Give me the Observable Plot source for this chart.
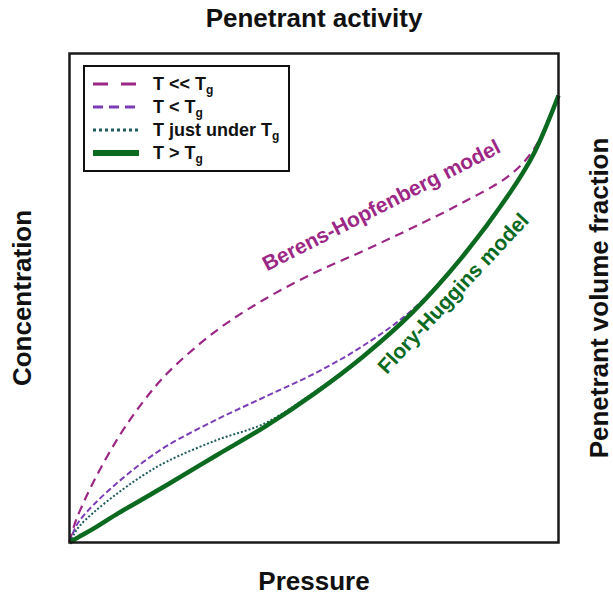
<!DOCTYPE html>
<html>
<head>
<meta charset="utf-8">
<script src="https://cdn.jsdelivr.net/npm/d3@7"></script>
<script src="https://cdn.jsdelivr.net/npm/@observablehq/plot@0.6"></script>
<style>
  body { margin: 0; background: #fff; }
  #chart { position: relative; width: 613px; height: 596px; font-family: "Liberation Sans", Arial, sans-serif; }
  #chart > svg { position: absolute; left: 0; top: 0; }
  #legend { position: absolute; left: 83px; top: 65px; width: 203px; height: 103px; border: 2px solid #111; background: #fff; }
  #legend .row { position: absolute; left: 0; height: 22px; display: flex; align-items: center; }
  #legend .row svg { position: static; margin-left: 8px; display: block; }
  #legend .row span { margin-left: 14px; font-weight: bold; font-size: 18px; color: #111; white-space: nowrap; }
  #legend .row sub { font-size: 12px; vertical-align: -4px; line-height: 0; }
</style>
</head>
<body>
<div id="chart"></div>
<script>
// Sorption isotherms: concentration vs pressure for four temperature regimes
const pressure      = [0, 0.01, 0.02, 0.05, 0.1, 0.15, 0.2, 0.3, 0.4, 0.5, 0.6, 0.7, 0.8, 0.9, 0.95, 1];
const concFarBelow  = [0, 0.036, 0.062, 0.126, 0.215, 0.287, 0.346, 0.433, 0.498, 0.551, 0.596, 0.643, 0.693, 0.751, 0.805, 0.914];
const concBelow     = [0, 0.026, 0.044, 0.078, 0.124, 0.164, 0.198, 0.251, 0.298, 0.345, 0.402, 0.475, 0.582, 0.714, 0.796, 0.914];
const concJustUnder = [0, 0.018, 0.033, 0.062, 0.102, 0.137, 0.166, 0.209, 0.244, 0.307, 0.381, 0.470, 0.580, 0.714, 0.796, 0.914];
const concAbove     = [0, 0.006, 0.012, 0.029, 0.060, 0.089, 0.118, 0.178, 0.237, 0.304, 0.380, 0.469, 0.580, 0.714, 0.796, 0.914];

const seriesLabels = ["T << T", "T < T", "T just under T", "T > T"];
const seriesColors = ["#9c2785", "#7b3db5", "#1f5c5e", "#0b6a1f"];
const plotDash     = ["9,6", "6,3", "2,2", null];
const plotWidth    = [2.2, 2, 2, 4.5];
const legendDash   = ["15,13", "10,6", "3,3", null];
const legendWidth  = [3, 3, 3, 6];

const axisTitles = { top: "Penetrant activity", bottom: "Pressure", left: "Concentration", right: "Penetrant volume fraction" };

const modelLabels = ["Berens-Hopfenberg model", "Flory-Huggins model"];
const modelX      = [0.638, 0.785];
const modelY      = [0.689, 0.509];
const modelAngle  = [-27, -47];
const modelColor  = [seriesColors[0], seriesColors[3]];

const seriesValues = [concFarBelow, concBelow, concJustUnder, concAbove];
const tables = seriesValues.map(vals => pressure.map((p, i) => ({p, c: vals[i]})));

const titleStyle = {
  fontSize: 26, fontWeight: "bold", fill: "#111",
  fontFamily: "Liberation Sans, Arial, sans-serif",
  textAnchor: "middle", lineAnchor: "middle"
};

const marks = [
  ...tables.map((t, k) => Plot.line(t, {
    x: "p", y: "c", curve: "catmull-rom",
    stroke: seriesColors[k], strokeWidth: plotWidth[k],
    strokeDasharray: plotDash[k] ?? undefined, strokeLinecap: "butt"
  })),
  ...modelLabels.map((label, k) => Plot.text([label], {
    x: () => modelX[k], y: () => modelY[k], rotate: modelAngle[k],
    fill: modelColor[k], fontSize: 21, fontWeight: "bold",
    fontFamily: "Liberation Sans, Arial, sans-serif", textAnchor: "middle", lineAnchor: "middle"
  })),
  Plot.frame({ stroke: "#1a1a1a", strokeWidth: 2.5 }),
  Plot.text([axisTitles.top], { frameAnchor: "top", dy: -35, ...titleStyle }),
  Plot.text([axisTitles.bottom], { frameAnchor: "bottom", dy: 39, ...titleStyle }),
  Plot.text([axisTitles.left], { frameAnchor: "left", dx: -47, rotate: -90, ...titleStyle }),
  Plot.text([axisTitles.right], { frameAnchor: "right", dx: 41, rotate: -90, ...titleStyle })
];

const chart = Plot.plot({
  width: 613,
  height: 596,
  marginLeft: 69,
  marginRight: 55,
  marginTop: 53,
  marginBottom: 54,
  x: { domain: [0, 1], axis: null },
  y: { domain: [0, 1], axis: null },
  style: { background: "#fff", overflow: "visible" },
  marks
});

const root = document.getElementById("chart");
root.appendChild(chart);

// Legend box with line samples
const legend = document.createElement("div");
legend.id = "legend";
const rowTops = [6, 29, 52, 75];
const ns = "http://www.w3.org/2000/svg";
seriesLabels.forEach((label, k) => {
  const row = document.createElement("div");
  row.className = "row";
  row.style.top = rowTops[k] + "px";
  const svg = document.createElementNS(ns, "svg");
  svg.setAttribute("width", 46);
  svg.setAttribute("height", 10);
  const ln = document.createElementNS(ns, "line");
  ln.setAttribute("x1", 0); ln.setAttribute("x2", 46);
  ln.setAttribute("y1", 5); ln.setAttribute("y2", 5);
  ln.setAttribute("stroke", seriesColors[k]);
  ln.setAttribute("stroke-width", legendWidth[k]);
  if (legendDash[k]) ln.setAttribute("stroke-dasharray", legendDash[k]);
  svg.appendChild(ln);
  row.appendChild(svg);
  const span = document.createElement("span");
  span.textContent = label;
  const sub = document.createElement("sub");
  sub.textContent = "g";
  span.appendChild(sub);
  row.appendChild(span);
  legend.appendChild(row);
});
root.appendChild(legend);
</script>
</body>
</html>
